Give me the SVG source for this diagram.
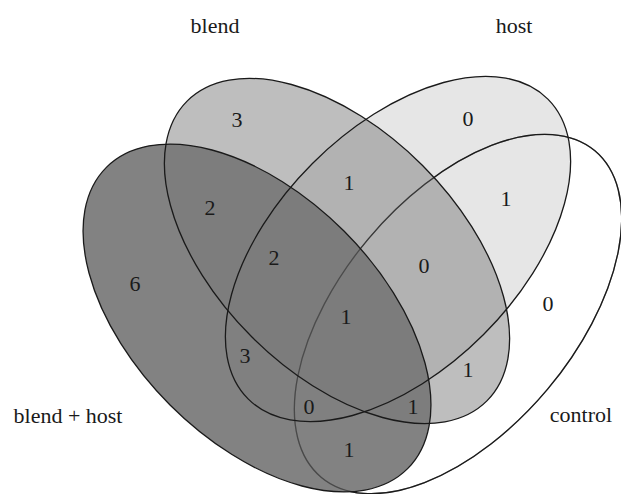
<svg xmlns="http://www.w3.org/2000/svg" width="621" height="494" viewBox="0 0 621 494">
<style>
text{font-family:"Liberation Serif","Times New Roman",serif;font-size:22px;fill:#1a1a1a;text-anchor:middle}
.o{fill:none;stroke:#1a1a1a;stroke-width:1.3}
.num{font-size:21px}
</style>
<defs>
<ellipse id="eBH" cx="0" cy="0" rx="213" ry="123" transform="translate(257,318) rotate(45)"/>
<ellipse id="eB" cx="0" cy="0" rx="212" ry="121" transform="translate(337,251) rotate(45)"/>
<ellipse id="eH" cx="0" cy="0" rx="212" ry="121" transform="translate(398,249) rotate(-45)"/>
<ellipse id="eC" cx="0" cy="0" rx="213" ry="117" transform="translate(458,314) rotate(-50)"/>
</defs>
<rect width="621" height="494" fill="#fff"/>
<g id="fills">
<use href="#eH" fill="#e6e6e6"/>
<use href="#eC" class="o"/>
<use href="#eB" fill="#828282" fill-opacity="0.52"/>
<use href="#eBH" fill="#777" fill-opacity="0.92"/>
</g>
<g id="set-blend-host">
<use href="#eBH" class="o"/>
<text x="68" y="423">blend + host</text>
</g>
<g id="set-blend">
<use href="#eB" class="o"/>
<text x="215" y="33">blend</text>
</g>
<g id="set-host">
<use href="#eH" class="o"/>
<text x="514" y="33">host</text>
</g>
<g id="set-control">
<use href="#eC" class="o" stroke-opacity="0.45"/>
<text x="581" y="422">control</text>
</g>
<g id="counts" class="num">
<text x="237" y="127">3</text>
<text x="468" y="126">0</text>
<text x="349" y="190">1</text>
<text x="506" y="206">1</text>
<text x="210" y="215">2</text>
<text x="274" y="265">2</text>
<text x="135" y="291">6</text>
<text x="424" y="273">0</text>
<text x="548" y="311">0</text>
<text x="346" y="324">1</text>
<text x="245" y="363">3</text>
<text x="468" y="377">1</text>
<text x="309" y="414">0</text>
<text x="413" y="414">1</text>
<text x="349" y="457">1</text>
</g>
</svg>
